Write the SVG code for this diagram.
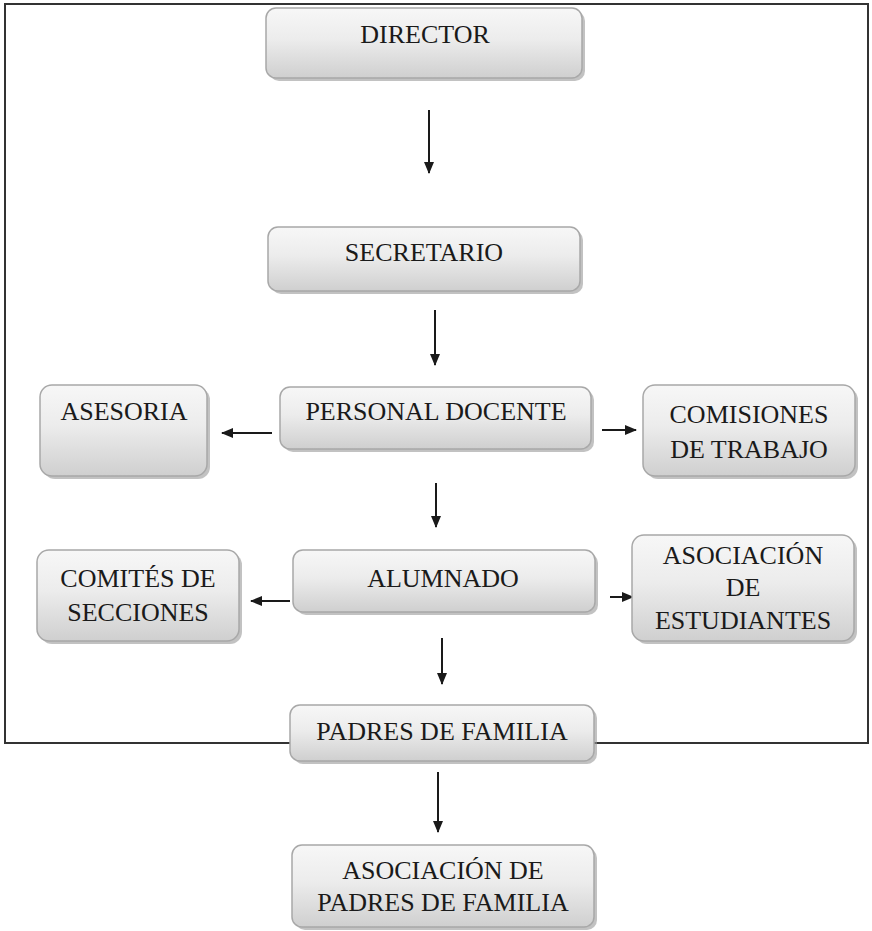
<svg xmlns="http://www.w3.org/2000/svg" width="872" height="931" viewBox="0 0 872 931">
<defs>
<linearGradient id="g" x1="0" y1="0" x2="0" y2="1">
<stop offset="0" stop-color="#f7f7f7"/>
<stop offset="0.45" stop-color="#ececec"/>
<stop offset="1" stop-color="#cfcfcf"/>
</linearGradient>
<marker id="ah" markerWidth="12" markerHeight="10" refX="11" refY="5" orient="auto" markerUnits="userSpaceOnUse">
<path d="M0,0 L12,5 L0,10 Z" fill="#1a1a1a"/>
</marker>
</defs>
<style>
.box{fill:url(#g);stroke:#a8a8a8;stroke-width:1.5}
.sh{fill:#9a9a9a;opacity:0.6}
.t{font-family:"Liberation Serif","Times New Roman",serif;font-size:26px;fill:#1a1a1a;text-anchor:middle}
.c{stroke:#1a1a1a;stroke-width:2;fill:none;marker-end:url(#ah)}
.frame{fill:none;stroke:#333;stroke-width:2}
</style>
<rect class="frame" x="5" y="4" width="863" height="739"/>
<g id="connectors">
<line class="c" x1="429" y1="110" x2="429" y2="173"/>
<line class="c" x1="435" y1="310" x2="435" y2="365"/>
<line class="c" x1="272" y1="433" x2="222" y2="433"/>
<line class="c" x1="602" y1="430" x2="636" y2="430"/>
<line class="c" x1="436" y1="483" x2="436" y2="527"/>
<line class="c" x1="290" y1="601" x2="251" y2="601"/>
<line class="c" x1="610" y1="597" x2="633" y2="597"/>
<line class="c" x1="442" y1="638" x2="442" y2="684"/>
<line class="c" x1="438" y1="772" x2="438" y2="832"/>
</g>
<g id="director">
<rect class="sh" x="269" y="11" width="316" height="70" rx="10"/>
<rect class="box" x="266" y="8" width="316" height="70" rx="10"/>
<text class="t" x="425" y="43">DIRECTOR</text>
</g>
<g id="secretario">
<rect class="sh" x="271" y="230" width="312" height="64" rx="10"/>
<rect class="box" x="268" y="227" width="312" height="64" rx="10"/>
<text class="t" x="424" y="261">SECRETARIO</text>
</g>
<g id="personal-docente">
<rect class="sh" x="283" y="390" width="311" height="62" rx="10"/>
<rect class="box" x="280" y="387" width="311" height="62" rx="10"/>
<text class="t" x="436" y="420">PERSONAL DOCENTE</text>
</g>
<g id="asesoria">
<rect class="sh" x="43" y="388" width="167" height="91" rx="12"/>
<rect class="box" x="40" y="385" width="167" height="91" rx="12"/>
<text class="t" x="124" y="420">ASESORIA</text>
</g>
<g id="comisiones">
<rect class="sh" x="646" y="388" width="212" height="91" rx="12"/>
<rect class="box" x="643" y="385" width="212" height="91" rx="12"/>
<text class="t" x="749" y="423">COMISIONES</text>
<text class="t" x="749" y="458">DE TRABAJO</text>
</g>
<g id="alumnado">
<rect class="sh" x="296" y="553" width="302" height="62" rx="10"/>
<rect class="box" x="293" y="550" width="302" height="62" rx="10"/>
<text class="t" x="443" y="587">ALUMNADO</text>
</g>
<g id="comites">
<rect class="sh" x="40" y="553" width="202" height="91" rx="12"/>
<rect class="box" x="37" y="550" width="202" height="91" rx="12"/>
<text class="t" x="138" y="587">COMITÉS DE</text>
<text class="t" x="138" y="621">SECCIONES</text>
</g>
<g id="asociacion-estudiantes">
<rect class="sh" x="635" y="538" width="222" height="106" rx="12"/>
<rect class="box" x="632" y="535" width="222" height="106" rx="12"/>
<text class="t" x="743" y="564">ASOCIACIÓN</text>
<text class="t" x="743" y="596">DE</text>
<text class="t" x="743" y="629">ESTUDIANTES</text>
</g>
<g id="padres">
<rect class="sh" x="293" y="708" width="304" height="56" rx="10"/>
<rect class="box" x="290" y="705" width="304" height="56" rx="10"/>
<text class="t" x="442" y="740">PADRES DE FAMILIA</text>
</g>
<g id="asociacion-padres">
<rect class="sh" x="295" y="848" width="302" height="82" rx="10"/>
<rect class="box" x="292" y="845" width="302" height="82" rx="10"/>
<text class="t" x="443" y="879">ASOCIACIÓN DE</text>
<text class="t" x="443" y="911">PADRES DE FAMILIA</text>
</g>
</svg>
